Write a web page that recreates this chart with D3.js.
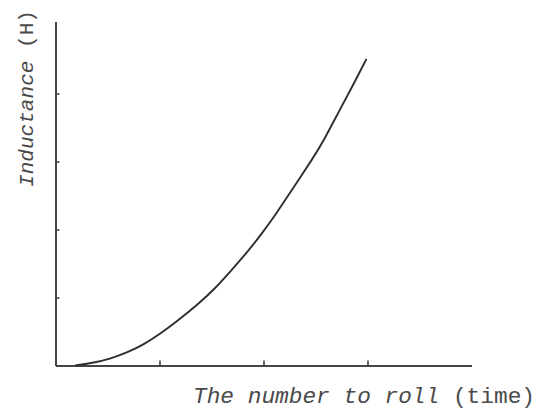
<!DOCTYPE html>
<html>
<head>
<meta charset="utf-8">
<script src="https://cdn.jsdelivr.net/npm/d3@7"></script>
<style>
  html, body { margin: 0; padding: 0; background: #ffffff; }
  svg { display: block; }
  .label { font-family: "Liberation Mono", "DejaVu Sans Mono", monospace; fill: #4a4a4a; }
</style>
</head>
<body>
<div id="chart"></div>
<script>
// Inductance measured against the number of rolls
const rolls      = [0.19, 0.37, 0.53, 0.69, 0.85, 1.00, 1.17, 1.39, 1.52, 1.68, 1.85, 1.97, 2.13, 2.29, 2.48, 2.58, 2.74, 2.87, 2.99];
const inductance = [0.00, 0.04, 0.10, 0.19, 0.31, 0.46, 0.65, 0.93, 1.11, 1.38, 1.68, 1.91, 2.25, 2.62, 3.06, 3.31, 3.78, 4.15, 4.51];
const xTicks = [1, 2, 3];
const yTicks = [1, 2, 3, 4];
const xTitleMain = "The number to roll";
const xTitleUnit = " (time)";
const yTitleMain = "Inductance";
const yTitleUnit = " (H)";

const width = 539, height = 414;
const svg = d3.select("#chart").append("svg")
  .attr("width", width).attr("height", height);

const x = d3.scaleLinear().domain([0, 4]).range([55.5, 471.5]);
const y = d3.scaleLinear().domain([0, 5.06]).range([365.5, 21.5]);

const axisColor = "#444";

// x axis: ticks point up into the plot, no labels
const gx = svg.append("g").attr("transform", `translate(0,${y(0)})`)
  .call(d3.axisBottom(x).tickValues(xTicks).tickSizeInner(-5).tickSizeOuter(0).tickFormat(""));
// y axis: ticks point right into the plot, no labels
const gy = svg.append("g").attr("transform", `translate(${x(0)},0)`)
  .call(d3.axisLeft(y).tickValues(yTicks).tickSizeInner(-4).tickSizeOuter(0).tickFormat(""));

[gx, gy].forEach(g => {
  g.select(".domain").attr("stroke", axisColor).attr("stroke-width", 2);
  g.selectAll(".tick line").attr("stroke", axisColor).attr("stroke-width", 1.6);
});

// the measured curve
const pts = rolls.map((r, i) => [r, inductance[i]]);
svg.append("path")
  .datum(pts)
  .attr("fill", "none")
  .attr("stroke", "#2e2e2e")
  .attr("stroke-width", 1.9)
  .attr("d", d3.line().x(d => x(d[0])).y(d => y(d[1])).curve(d3.curveBasis));

// axis titles
const xt = svg.append("text").attr("class", "label")
  .attr("x", 193).attr("y", 403)
  .attr("font-size", 22)
  .attr("textLength", 342).attr("lengthAdjust", "spacingAndGlyphs");
xt.append("tspan").attr("font-style", "italic").text(xTitleMain);
xt.append("tspan").text(xTitleUnit);

const yt = svg.append("text").attr("class", "label")
  .attr("transform", "translate(33,187) rotate(-90)")
  .attr("x", 0).attr("y", 0)
  .attr("font-size", 21)
  .attr("textLength", 177).attr("lengthAdjust", "spacingAndGlyphs");
yt.append("tspan").attr("font-style", "italic").text(yTitleMain);
yt.append("tspan").text(yTitleUnit);
</script>
</body>
</html>
